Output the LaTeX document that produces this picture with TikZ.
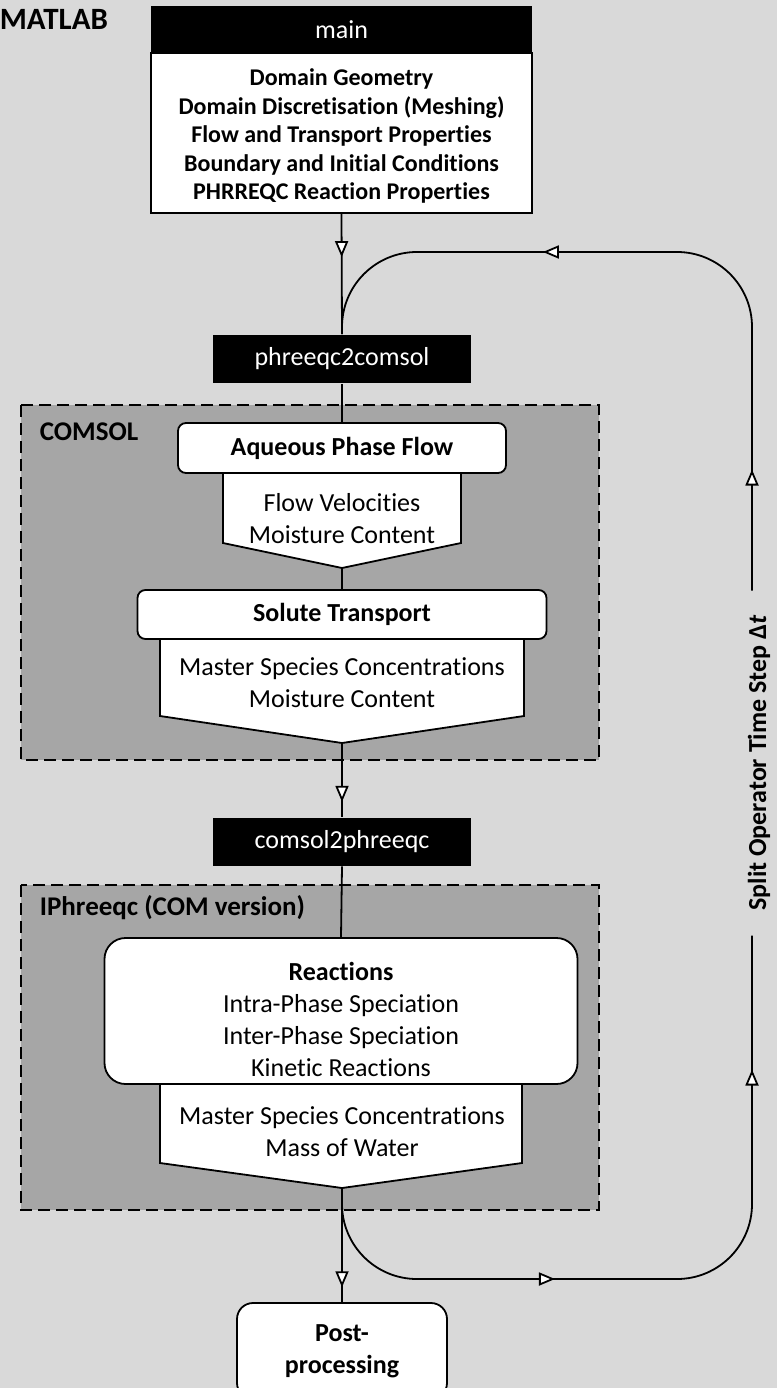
\documentclass[tikz,border=0pt]{standalone}
\usepackage{fontspec}
\setmainfont{Carlito}[Ligatures=NoCommon]
\usetikzlibrary{arrows.meta, decorations.markings}
\definecolor{bggray}{HTML}{D9D9D9}
\definecolor{grpgray}{HTML}{A6A6A6}
\tikzset{
  otri/.tip = {Triangle[length=16pt, width=13pt, fill=white]},
  blackbox/.style = {fill=black, text=white, inner sep=0pt, minimum height=48pt,
    font=\fontsize{26}{32}\selectfont},
  whitebox/.style = {draw, fill=white, inner sep=0pt, align=center},
  roundbox/.style = {whitebox, rounded corners=8pt, font=\bfseries\fontsize{26}{32}\selectfont},
  pentagon/.style = {draw, fill=white},
  bodytext/.style = {inner sep=0pt, align=center, font=\fontsize{26}{32}\selectfont},
  grouplabel/.style = {inner sep=0pt, anchor=west, font=\bfseries\fontsize{27}{32}\selectfont},
  groupbox/.style = {draw, fill=grpgray, dash pattern=on 12pt off 6pt},
  midarrow/.style = {postaction={decorate, decoration={markings,
    mark=at position #1 with {\arrow{otri}}}}},
  looparrows/.style 2 args = {postaction={decorate, decoration={markings,
    mark=at position #1 with {\arrow{otri}},
    mark=at position #2 with {\arrow{otri}}}}}
}

\begin{document}
\begin{tikzpicture}[x=1pt, y=-1pt, line width=1.8pt]
% 背景
\fill[bggray] (0,0) rectangle (777,1388);
\useasboundingbox (0,0) rectangle (777,1388);

% グループ枠
\draw[groupbox] (21,405) rectangle (599,760);
\draw[groupbox] (21,885) rectangle (599,1210);
\node[grouplabel, font=\bfseries\fontsize{31}{36}\selectfont] (matlab) at (-1,19) {MATLAB};
\node[grouplabel] (comsol) at (39,432) {COMSOL};
\node[grouplabel] (iphreeqc) at (39,908) {IPhreeqc (COM version)};

% main
\node[blackbox, minimum width=381pt, minimum height=47pt] (mainhead) at (341.5,29.5) {main};
\node[whitebox, minimum width=381pt, minimum height=160pt] (mainbody) at (341.5,133) {};
\node[bodytext, font=\bfseries\fontsize{24}{28.5}\selectfont] (mainlist) at (341.5,136)
  {Domain Geometry\\Domain Discretisation (Meshing)\\Flow and Transport Properties\\
   Boundary and Initial Conditions\\PHRREQC Reaction Properties};

% phreeqc2comsol
\node[blackbox, minimum width=258pt] (p2c) at (342,359) {phreeqc2comsol};

% COMSOL
\node[roundbox, minimum width=328pt, minimum height=50pt] (flow) at (342,448) {Aqueous Phase Flow};
\draw[pentagon] (223,473) -- (461,473) -- (461,543) -- (342,568) -- (223,543) -- cycle;
\coordinate (flowtip) at (342,568);
\node[bodytext] (flowout) at (342,519) {Flow Velocities\\Moisture Content};

\node[roundbox, minimum width=409pt, minimum height=49pt] (trans) at (342,614.5) {Solute Transport};
\draw[pentagon] (160,639) -- (524,639) -- (524,716) -- (342,743) -- (160,716) -- cycle;
\coordinate (transtip) at (342,743);
\node[bodytext] (transout) at (342,682.5) {Master Species Concentrations\\Moisture Content};

% comsol2phreeqc
\node[blackbox, minimum width=258pt] (c2p) at (342,841.5) {comsol2phreeqc};

% IPhreeqc
\node[whitebox, rounded corners=21pt, minimum width=473pt, minimum height=146pt] (react) at (341,1011) {};
\node[bodytext] (reactlist) at (341,1019.5)
  {\textbf{Reactions}\\Intra-Phase Speciation\\Inter-Phase Speciation\\Kinetic Reactions};
\draw[pentagon] (160,1084) -- (522,1084) -- (522,1163) -- (342,1188) -- (160,1163) -- cycle;
\coordinate (reacttip) at (342,1188);
\node[bodytext] (reactout) at (342,1132) {Master Species Concentrations\\Mass of Water};

% Post-processing
\node[roundbox, rounded corners=16pt, minimum width=210pt, minimum height=96pt, align=center]
  (post) at (342,1351) {Post-\\processing};

% 縦の接続線
\draw[midarrow=0.36] (mainbody.south) -- (p2c.north);
\draw (p2c.south) -- (flow.north);
\draw (flowtip) -- (trans.north);
\draw[midarrow=0.8] (transtip) -- (c2p.north);
\draw (c2p.south) -- (react.north);
\draw[midarrow=0.87] (reacttip) -- (post.north);

% 時間ステップのループ
\node[rotate=90, inner xsep=24pt, inner ysep=0pt, font=\bfseries\fontsize{26}{32}\selectfont]
  (dt) at (759,763) {Split Operator Time Step Δ\textit{t}};
\coordinate (loopTR) at (752,252);
\coordinate (loopBR) at (752,1279);
\coordinate (loopBL) at (342,1279);
\coordinate (split) at (342,1200);

\draw[rounded corners=75pt, looparrows={121pt}{-250.8pt}]
  (dt.east -| loopTR) -- (loopTR) -- (p2c.north |- loopTR) -- (p2c.north);
\draw[rounded corners=75pt, looparrows={259.8pt}{-134pt}]
  (split) -- (loopBL) -- (loopBR) -- (dt.west -| loopBR);
\end{tikzpicture}
\end{document}
